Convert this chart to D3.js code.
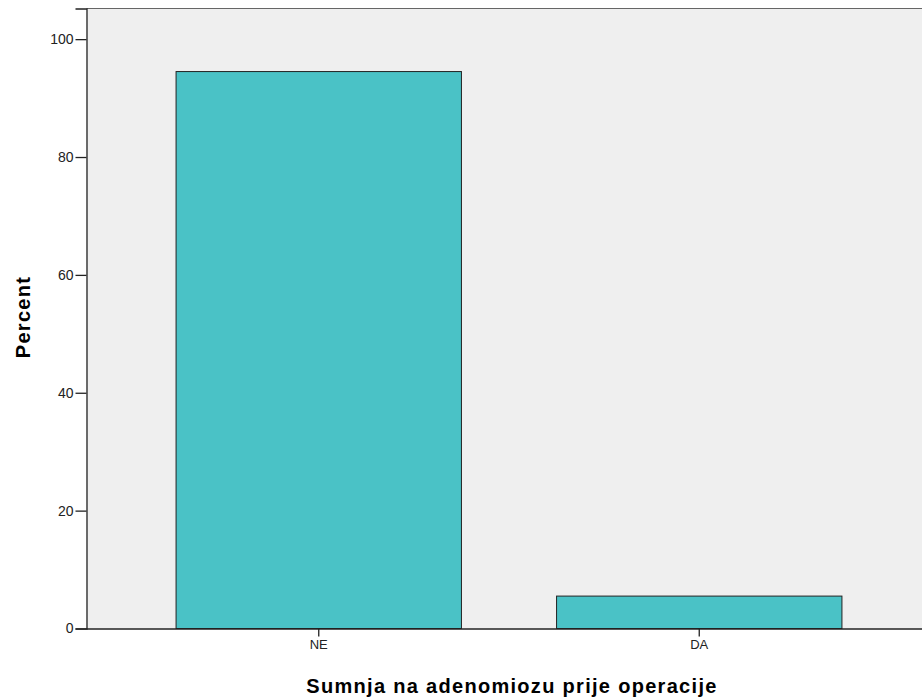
<!DOCTYPE html>
<html lang="en">
<head>
    <meta charset="UTF-8">
    <title>Sumnja na adenomiozu prije operacije</title>
    <script src="https://d3js.org/d3.v7.min.js"></script>
    <style>
        body { margin: 0; background: #fff; }
        .tick text { font: 13px "Liberation Sans", Arial, sans-serif; fill: #222; }
        .y-axis .tick text { font-size: 14px; }
        .axis-title { font: bold 20px "Liberation Sans", Arial, sans-serif; fill: #000; letter-spacing: 1.3px; }
    </style>
</head>
<body>
    <svg width="922" height="698"></svg>
    <script>
        // Percent of cases per answer
        const categories = ["NE", "DA"];
        const percents = [94.5, 5.5];
        const yTicks = [0, 20, 40, 60, 80, 100];

        const width = 922;
        const height = 698;
        const plot = { left: 86.5, right: 922, top: 8.5, bottom: 628.5 };

        const svg = d3.select("svg")
            .attr("width", width)
            .attr("height", height);

        const y = d3.scaleLinear()
            .domain([0, 105.2])
            .range([plot.bottom, plot.top]);

        const x = d3.scaleBand()
            .domain(categories)
            .range([128.5, 889.5])
            .paddingInner(0.25)
            .paddingOuter(0.125);

        // plot background
        svg.append("rect")
            .attr("x", plot.left)
            .attr("y", plot.top)
            .attr("width", plot.right - plot.left)
            .attr("height", plot.bottom - plot.top)
            .attr("fill", "#efefef");

        // top frame line
        svg.append("line")
            .attr("x1", plot.left).attr("x2", plot.right)
            .attr("y1", plot.top).attr("y2", plot.top)
            .attr("stroke", "#666").attr("stroke-width", 1);

        // bars
        svg.selectAll(".bar")
            .data(categories)
            .enter().append("rect")
            .attr("class", "bar")
            .attr("x", d => x(d))
            .attr("y", (d, i) => y(percents[i]))
            .attr("width", x.bandwidth())
            .attr("height", (d, i) => y(0) - y(percents[i]))
            .attr("fill", "#4ac2c6")
            .attr("stroke", "#222")
            .attr("stroke-width", 1);

        // y axis
        const yAxis = svg.append("g")
            .attr("class", "y-axis")
            .attr("transform", "translate(" + plot.left + ",0)")
            .call(d3.axisLeft(y).tickValues(yTicks).tickSize(11).tickPadding(2));
        yAxis.select(".domain").attr("stroke", "#222").attr("stroke-width", 1.3);
        yAxis.selectAll(".tick line").attr("stroke", "#222").attr("stroke-width", 1.3);

        // x axis
        const xAxis = svg.append("g")
            .attr("transform", "translate(0," + plot.bottom + ")")
            .call(d3.axisBottom(x).tickSize(8).tickPadding(3).tickSizeOuter(0));
        xAxis.select(".domain")
            .attr("d", "M" + plot.left + ",0.5H" + plot.right)
            .attr("stroke", "#222").attr("stroke-width", 1.3);
        xAxis.selectAll(".tick line").attr("stroke", "#222").attr("stroke-width", 1.3);

        // axis titles
        svg.append("text")
            .attr("class", "axis-title")
            .attr("text-anchor", "middle")
            .attr("x", 512)
            .attr("y", 693)
            .text("Sumnja na adenomiozu prije operacije");

        svg.append("text")
            .attr("class", "axis-title")
            .attr("text-anchor", "middle")
            .attr("transform", "translate(29.5,317) rotate(-90)")
            .text("Percent");
    </script>
</body>
</html>
